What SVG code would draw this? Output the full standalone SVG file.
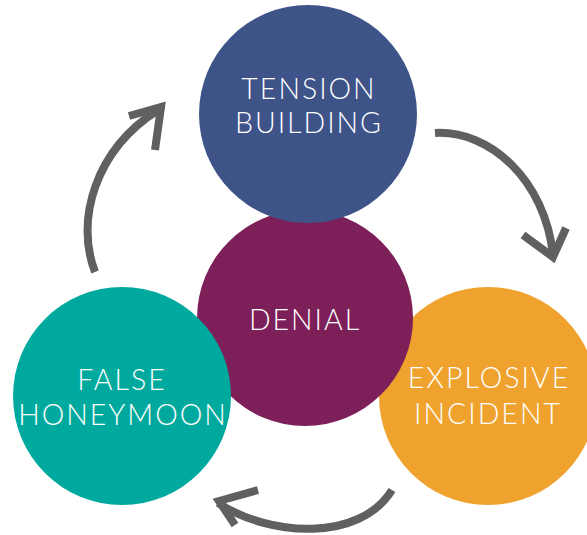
<svg xmlns="http://www.w3.org/2000/svg" width="587" height="535" viewBox="0 0 587 535">
  <style>
    .lbl { font-family: Lato, "Open Sans", sans-serif; font-weight: 300; font-size: 28.5px; fill: #ffffff; text-anchor: middle; letter-spacing: 2px; }
    .arrow { fill: none; stroke: #5f605f; stroke-width: 8; stroke-linecap: butt; }
    .head { fill: none; stroke: #5f605f; stroke-width: 8; stroke-linejoin: miter; stroke-miterlimit: 10; stroke-linecap: butt; }
  </style>
  <rect width="587" height="535" fill="#ffffff"/>

  <g id="explosive-incident">
    <circle cx="488" cy="396" r="109" fill="#f0a22f"/>
    <text class="lbl" x="489" y="388">EXPLOSIVE</text>
    <text class="lbl" x="488" y="424">INCIDENT</text>
  </g>

  <g id="denial">
    <circle cx="305" cy="318" r="108" fill="#7d2059"/>
    <text class="lbl" x="305" y="330">DENIAL</text>
  </g>

  <g id="false-honeymoon">
    <circle cx="122" cy="396" r="109" fill="#00a99e"/>
    <text class="lbl" x="122" y="390">FALSE</text>
    <text class="lbl" x="123" y="425">HONEYMOON</text>
  </g>

  <g id="tension-building">
    <circle cx="308" cy="114" r="109" fill="#3e5489"/>
    <text class="lbl" x="309" y="99">TENSION</text>
    <text class="lbl" x="309" y="133">BUILDING</text>
  </g>

  <g id="connectors">
    <path class="arrow" d="M 95 272 C 75 220, 95 150, 158 110"/>
    <path class="head" d="M 129 116 L 161 107 L 155 150"/>

    <path class="arrow" d="M 435 133 C 490 130, 545 180, 553 255"/>
    <path class="head" d="M 523 235 L 553 257 L 566 228"/>

    <path class="arrow" d="M 392 490 C 360 542, 270 537, 218 503"/>
    <path class="head" d="M 258 490 L 219 501 L 235 525"/>
  </g>
</svg>
